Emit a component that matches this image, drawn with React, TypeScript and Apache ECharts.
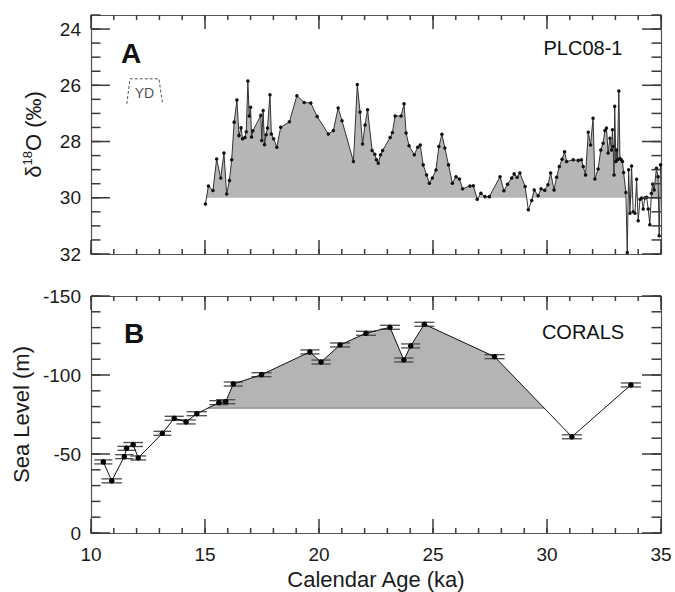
import React, { useEffect, useRef } from 'react';
import * as echarts from 'echarts';

// ---------- Panel A: PLC08-1 d18O ----------
const ageA = [
  15.02, 15.15, 15.35, 15.51, 15.69, 15.83, 15.95, 16.07, 16.17, 16.28, 16.40, 16.49, 16.58, 16.65, 16.75, 16.81,
  16.88, 16.94, 17.00, 17.04, 17.10, 17.45, 17.49, 17.55, 17.61, 17.68, 17.74, 17.85, 17.91, 18.01, 18.15, 18.32,
  18.70, 19.03, 19.35, 19.64, 19.92, 20.41, 20.63, 20.84, 21.01, 21.51, 21.68, 21.80, 21.91, 22.02, 22.13, 22.33,
  22.45, 22.52, 22.60, 22.70, 22.79, 23.12, 23.22, 23.34, 23.60, 23.73, 23.82, 23.95, 24.18, 24.33, 24.44, 24.57,
  24.72, 24.84, 24.97, 25.13, 25.26, 25.39, 25.52, 25.68, 25.85, 26.01, 26.16, 26.30, 26.62, 26.77, 26.94, 27.10,
  27.28, 27.47, 27.94, 28.11, 28.27, 28.45, 28.56, 28.69, 28.81, 29.04, 29.18, 29.33, 29.44, 29.61, 29.74, 29.90,
  30.04, 30.16, 30.31, 30.42, 30.54, 30.66, 30.77, 30.86, 31.15, 31.37, 31.51, 31.59, 31.69, 31.81, 31.91, 32.02,
  32.10, 32.24, 32.36, 32.46, 32.54, 32.61, 32.68, 32.76, 32.83, 32.87, 32.90, 32.94, 32.97, 33.02, 33.05, 33.09,
  33.15, 33.20, 33.26, 33.31, 33.36, 33.46, 33.52, 33.58, 33.64, 33.71, 33.78, 33.86, 33.93, 34.00, 34.08, 34.15,
  34.22, 34.29, 34.37, 34.44, 34.51, 34.58, 34.63, 34.70, 34.80, 34.87, 34.92, 34.98,
];
const d18O = [
  30.22, 29.58, 29.74, 28.62, 29.30, 28.41, 29.87, 29.39, 28.65, 27.31, 26.52, 27.79, 27.51, 27.90, 27.86, 27.65,
  25.85, 27.09, 26.78, 27.84, 27.62, 27.07, 27.96, 26.90, 28.11, 27.76, 27.52, 26.34, 27.73, 27.90, 28.20, 27.49,
  27.30, 26.37, 26.61, 26.63, 27.11, 27.73, 27.61, 26.81, 27.26, 28.71, 25.97, 26.95, 28.09, 27.41, 26.87, 28.32,
  28.45, 28.65, 28.77, 28.47, 28.32, 27.86, 27.68, 27.09, 27.09, 26.66, 27.70, 28.15, 28.47, 28.20, 28.12, 28.83,
  29.19, 29.48, 29.30, 29.01, 28.18, 27.74, 28.23, 28.83, 29.48, 29.25, 29.33, 29.68, 29.58, 29.57, 30.05, 29.84,
  29.96, 29.96, 29.25, 29.75, 29.52, 29.30, 29.15, 29.27, 29.12, 29.60, 30.43, 30.10, 29.72, 29.93, 29.68, 29.73,
  29.54, 29.12, 29.72, 29.27, 28.89, 28.63, 28.36, 28.71, 28.65, 28.67, 28.65, 28.89, 29.19, 27.67, 28.12, 27.17,
  29.33, 28.98, 28.30, 28.06, 27.61, 27.52, 28.41, 27.88, 28.30, 27.58, 28.18, 29.19, 26.75, 28.71, 28.30, 28.65,
  26.20, 28.60, 28.65, 28.71, 29.10, 29.81, 31.95, 29.00, 30.55, 28.87, 30.50, 30.55, 29.34, 30.82, 30.05, 30.01,
  30.40, 30.01, 29.98, 30.40, 30.96, 29.84, 29.51, 29.72, 28.95, 29.25, 31.35, 28.83,
];
const baseA = 30;

// Younger Dryas box (ka, d18O)
const ydAges = [11.57, 11.71, 12.98, 13.14];
const ydVals = [26.66, 25.77, 25.77, 26.66];
const ydLabel = [12.34, 26.26];

// ---------- Panel B: corals sea level ----------
const ageB = [
  10.54, 10.91, 11.46, 11.56, 11.85, 12.07, 13.13, 13.65, 14.17, 14.64, 15.61, 15.91, 16.24, 17.48, 19.60, 20.09,
  20.92, 22.06, 23.11, 23.72, 24.02, 24.62, 27.70, 31.09, 33.68,
];
const seaLevel = [
  -45, -33, -48.3, -53.6, -56, -47.5, -63.1, -72.6, -70.3, -75.5, -82.5, -83.1, -94.3, -100.2, -114.6, -108.2,
  -119, -126.4, -130.2, -109.5, -118.4, -132.1, -111.6, -60.9, -93.7,
];
const ageErrB = [
  0.4, 0.45, 0.4, 0.4, 0.43, 0.35, 0.39, 0.42, 0.42, 0.45, 0.42, 0.42, 0.42, 0.44, 0.42, 0.42,
  0.44, 0.44, 0.44, 0.42, 0.42, 0.44, 0.44, 0.44, 0.44,
];
const baseB = -79;
const fillRangeB = [10, 30];

// ---------- Ticks ----------
const xTicks = [10, 15, 20, 25, 30, 35];
const xMinor: number[] = [];
for (let v = 10; v <= 35; v++) xMinor.push(v);
const yTicksA = [24, 26, 28, 30, 32];
const yMinorA: number[] = [];
for (let i = 0; i <= 17; i++) yMinorA.push(23.5 + i * 0.5);
const yTicksB = [-150, -100, -50, 0];
const yMinorB: number[] = [];
for (let v = -150; v <= 0; v += 10) yMinorB.push(v);

const FONT = '"Liberation Sans", Arial, Helvetica, sans-serif';
const AX = '#555';
const TXT = '#1a1a1a';

function fillPoly(xs: number[], ys: number[], base: number, lo: number, hi: number) {
  const out: number[][] = [];
  for (let i = 0; i < xs.length; i++) {
    const x = xs[i], y = ys[i];
    if (x >= lo && x <= hi) out.push([x, Math.min(y, base)]);
    if (i < xs.length - 1) {
      const x2 = xs[i + 1], y2 = ys[i + 1];
      if ((y - base) * (y2 - base) < 0) {
        const xc = x + ((base - y) / (y2 - y)) * (x2 - x);
        if (xc >= lo && xc <= hi) out.push([xc, base]);
      }
    }
  }
  return out;
}

function crossings(xs: number[], ys: number[], base: number, lo: number, hi: number) {
  const out: number[] = [];
  for (let i = 0; i < xs.length - 1; i++) {
    const y = ys[i], y2 = ys[i + 1];
    if ((y - base) * (y2 - base) < 0) {
      const xc = xs[i] + ((base - y) / (y2 - y)) * (xs[i + 1] - xs[i]);
      if (xc >= lo && xc <= hi) out.push(xc);
    }
  }
  return out;
}

// tick items: [x, y, length, direction] (0 up from bottom, 1 down from top, 2 right from left, 3 left from right)
function tickData(yMin: number, yMax: number, yMajor: number[], yMinor: number[]) {
  const d: number[][] = [];
  xMinor.forEach((v) => { d.push([v, yMax, 5, 0]); d.push([v, yMin, 5, 1]); });
  xTicks.forEach((v) => { d.push([v, yMax, 14, 0]); d.push([v, yMin, 14, 1]); });
  yMinor.forEach((v) => { d.push([10, v, 9.5, 2]); d.push([35, v, 9.5, 3]); });
  yMajor.forEach((v) => { d.push([10, v, 19, 2]); d.push([35, v, 19, 3]); });
  return d;
}

function tickSeries(xAxisIndex: number, yAxisIndex: number, data: number[][]): any {
  return {
    type: 'custom', xAxisIndex, yAxisIndex, silent: true, z: 6,
    data, encode: { x: 0, y: 1 },
    renderItem: (params: any, api: any) => {
      const p = api.coord([api.value(0), api.value(1)]);
      const len = api.value(2);
      const dir = api.value(3);
      let x2 = p[0], y2 = p[1];
      if (dir === 0) y2 = p[1] - len;
      else if (dir === 1) y2 = p[1] + len;
      else if (dir === 2) x2 = p[0] + len;
      else x2 = p[0] - len;
      return { type: 'line', shape: { x1: p[0], y1: p[1], x2, y2 }, style: { stroke: '#3a3a3a', lineWidth: 1.5 } };
    },
  };
}

const axLine = { show: true, onZero: false, lineStyle: { color: AX, width: 1.2 } };

function xAxis(grid: number, pos: 'top' | 'bottom', labels: boolean): any {
  return {
    type: 'value', gridIndex: grid, position: pos, min: 10, max: 35, interval: 5,
    axisLine: axLine, splitLine: { show: false }, axisTick: { show: false },
    axisLabel: labels
      ? { show: true, fontSize: 19, fontFamily: FONT, color: TXT, margin: 12 }
      : { show: false },
    ...(labels
      ? {
          name: 'Calendar Age (ka)', nameLocation: 'middle', nameGap: 35,
          nameTextStyle: { fontSize: 22, fontFamily: FONT, color: TXT },
        }
      : {}),
  };
}

function yAxisA(pos: 'left' | 'right', labels: boolean): any {
  const a: any = {
    type: 'value', gridIndex: 0, position: pos, min: 23.5, max: 32, inverse: true,
    axisLine: axLine, splitLine: { show: false }, axisTick: { show: false },
    axisLabel: labels
      ? { show: true, fontSize: 19, fontFamily: FONT, color: TXT, margin: 10, customValues: yTicksA }
      : { show: false },
  };
  if (labels) {
    a.name = '{a|δ}{s|18}{a|O (‰)}';
    a.nameLocation = 'middle';
    a.nameGap = 46;
    a.nameTextStyle = {
      color: TXT,
      rich: {
        a: { fontSize: 22, fontFamily: FONT, color: TXT, lineHeight: 24 },
        s: { fontSize: 13, fontFamily: FONT, color: TXT, lineHeight: 14, verticalAlign: 'top' },
      },
    };
  }
  return a;
}

function yAxisB(pos: 'left' | 'right', labels: boolean): any {
  return {
    type: 'value', gridIndex: 1, position: pos, min: -150, max: 0, interval: 50, inverse: true,
    axisLine: axLine, splitLine: { show: false }, axisTick: { show: false },
    axisLabel: labels ? { show: true, fontSize: 19, fontFamily: FONT, color: TXT, margin: 10 } : { show: false },
    ...(labels
      ? {
          name: 'Sea Level (m)', nameLocation: 'middle', nameGap: 56,
          nameTextStyle: { fontSize: 22, fontFamily: FONT, color: TXT },
        }
      : {}),
  };
}

const texts: any[] = [
  { type: 'text', x: 131, y: 53, style: { text: 'A', font: `bold 28px ${FONT}`, fill: '#111', align: 'center', verticalAlign: 'middle' } },
  { type: 'text', x: 583, y: 48, style: { text: 'PLC08-1', font: `20px ${FONT}`, fill: '#111', align: 'center', verticalAlign: 'middle' } },
  { type: 'text', x: 134, y: 333, style: { text: 'B', font: `bold 28px ${FONT}`, fill: '#111', align: 'center', verticalAlign: 'middle' } },
  { type: 'text', x: 583, y: 332, style: { text: 'CORALS', font: `20px ${FONT}`, fill: '#111', align: 'center', verticalAlign: 'middle' } },
  { type: 'text', x: 404, y: 383, style: { text: 'H2', font: `20px ${FONT}`, fill: '#111', align: 'center', verticalAlign: 'middle' } },
];

export default function App() {
  const ref = useRef<HTMLDivElement>(null);
  useEffect(() => {
    if (!ref.current) return;
    const chart = echarts.init(ref.current, undefined, { renderer: 'svg' });

    const lineA = ageA.map((a, i) => [a, d18O[i]]);
    const fillA = fillPoly(ageA, d18O, baseA, -Infinity, Infinity);
    const lineB = ageB.map((a, i) => [a, seaLevel[i]]);
    const fillB = fillPoly(ageB, seaLevel, baseB, fillRangeB[0], fillRangeB[1]);
    const crossB = crossings(ageB, seaLevel, baseB, fillRangeB[0], fillRangeB[1]);
    const baselineB = [[Math.min(...crossB), baseB], [Math.max(...crossB), baseB]];

    chart.setOption({
      animation: false,
      backgroundColor: '#fff',
      grid: [
        { left: 91, top: 15, width: 570, height: 239, show: false },
        { left: 91, top: 296, width: 570, height: 237, show: false },
      ],
      xAxis: [xAxis(0, 'bottom', false), xAxis(0, 'top', false), xAxis(1, 'bottom', true), xAxis(1, 'top', false)],
      yAxis: [yAxisA('left', true), yAxisA('right', false), yAxisB('left', true), yAxisB('right', false)],
      series: [
        {
          type: 'line', xAxisIndex: 0, yAxisIndex: 0, data: fillA, symbol: 'none', silent: true,
          lineStyle: { width: 0 }, areaStyle: { color: '#b6b6b6', opacity: 1, origin: baseA }, z: 1,
        },
        {
          type: 'line', xAxisIndex: 0, yAxisIndex: 0, data: lineA, symbol: 'circle', symbolSize: 3.5,
          itemStyle: { color: '#111' }, lineStyle: { color: '#333', width: 1 }, z: 3,
        },
        {
          type: 'line', xAxisIndex: 0, yAxisIndex: 0, data: ydAges.map((a, i) => [a, ydVals[i]]),
          symbol: 'none', lineStyle: { color: '#555', width: 1, type: [3, 2] }, z: 3,
        },
        {
          type: 'scatter', xAxisIndex: 0, yAxisIndex: 0, data: [ydLabel], symbolSize: 0,
          label: { show: true, position: 'inside', formatter: 'YD', fontSize: 14, fontFamily: FONT, color: '#222' },
        },
        tickSeries(0, 0, tickData(23.5, 32, yTicksA, yMinorA)),
        {
          type: 'line', xAxisIndex: 2, yAxisIndex: 2, data: fillB, symbol: 'none', silent: true,
          lineStyle: { width: 0 }, areaStyle: { color: '#b4b4b4', opacity: 1, origin: baseB }, z: 1,
        },
        {
          type: 'line', xAxisIndex: 2, yAxisIndex: 2, data: baselineB, symbol: 'none', silent: true,
          lineStyle: { color: '#8a8a8a', width: 1.2 }, z: 2,
        },
        {
          type: 'custom', xAxisIndex: 2, yAxisIndex: 2,
          data: ageB.map((a, i) => [a, seaLevel[i], ageErrB[i]]),
          encode: { x: 0, y: 1 },
          renderItem: (params: any, api: any) => {
            const l = api.coord([api.value(0) - api.value(2), api.value(1)]);
            const r = api.coord([api.value(0) + api.value(2), api.value(1)]);
            const st = { stroke: '#4a4a4a', lineWidth: 1.3 };
            return {
              type: 'group',
              children: [
                { type: 'line', shape: { x1: l[0], y1: l[1] - 2, x2: r[0], y2: r[1] - 2 }, style: st },
                { type: 'line', shape: { x1: l[0], y1: l[1] + 2, x2: r[0], y2: r[1] + 2 }, style: st },
              ],
            };
          },
          z: 3,
        },
        {
          type: 'line', xAxisIndex: 2, yAxisIndex: 2, data: lineB, symbol: 'circle', symbolSize: 5.5,
          itemStyle: { color: '#000' }, lineStyle: { color: '#111', width: 1 }, z: 4,
        },
        tickSeries(2, 2, tickData(-150, 0, yTicksB, yMinorB)),
      ],
      graphic: texts,
    });

    return () => chart.dispose();
  }, []);
  return <div ref={ref} style={{ position: 'absolute', left: 0, top: 0, width: 675, height: 592 }} />;
}
